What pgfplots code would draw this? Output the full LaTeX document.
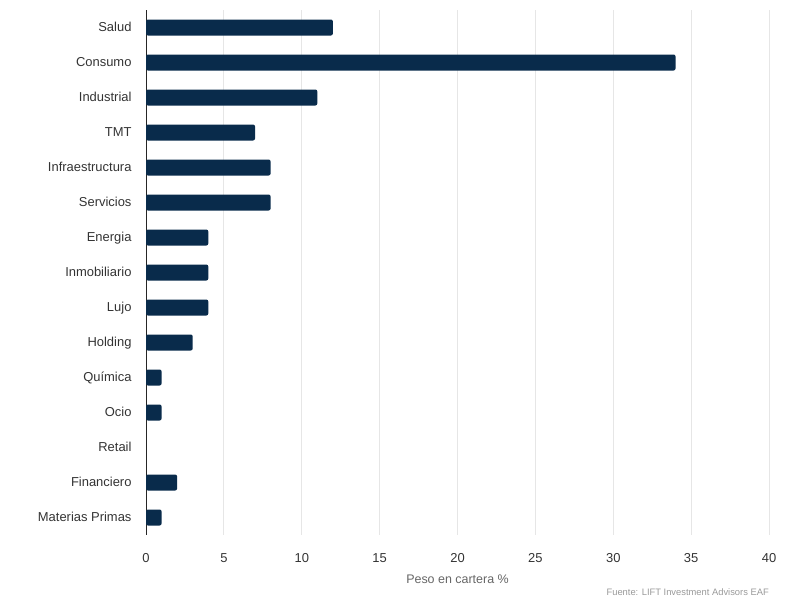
\documentclass[border=0pt]{standalone}
\usepackage{pgfplots}
\pgfplotsset{compat=1.18}
\usepackage{fontspec}
\setmainfont{Liberation Sans}
\definecolor{barc}{HTML}{092B4B}
\definecolor{txt}{HTML}{333333}
\definecolor{gridc}{HTML}{E6E6E6}
\definecolor{lab}{HTML}{666666}
\definecolor{src}{HTML}{999999}
\begin{document}
\begin{tikzpicture}
\useasboundingbox (0,0) rectangle (812bp,607bp);
\begin{axis}[
  at={(146bp,72bp)}, anchor=south west,
  scale only axis, width=623bp, height=525bp,
  xbar, bar width=16bp,
  xmin=0, xmax=40, xtick={0,5,...,40},
  ymin=-0.5, ymax=14.5, y dir=reverse,
  ytick={0,...,14},
  yticklabels={Salud,Consumo,Industrial,TMT,Infraestructura,Servicios,Energia,Inmobiliario,Lujo,Holding,Química,Ocio,Retail,Financiero,Materias Primas},
  axis lines=left,
  x axis line style={draw=none},
  y axis line style={-, draw=black!85, line width=1bp},
  major tick length=0,
  xmajorgrids, grid style={gridc, line width=1bp},
  ticklabel style={font=\fontsize{13}{15}\selectfont, text=txt},
  /pgf/number format/assume math mode=true,
  xticklabel style={yshift=-15bp},
  yticklabel style={xshift=-11bp, text height=9.5bp, text depth=2.5bp},
  xlabel={Peso en cartera \%},
  xlabel style={font=\fontsize{12.5}{14}\selectfont, text=lab, yshift=-5bp},
  clip=false,
]
\addplot[fill=barc, draw=none, rounded corners=2bp] coordinates {
(12,0) (34,1) (11,2) (7,3) (8,4) (8,5) (4,6) (4,7) (4,8) (3,9) (1,10) (1,11) (2,13) (1,14)
};
\node[anchor=east, font=\fontsize{9.4}{11}\selectfont, text=src, inner sep=0pt, yshift=-57bp] at (rel axis cs:1,0) {Fuente: LIFT Investment Advisors EAF};
\end{axis}
\end{tikzpicture}
\end{document}
